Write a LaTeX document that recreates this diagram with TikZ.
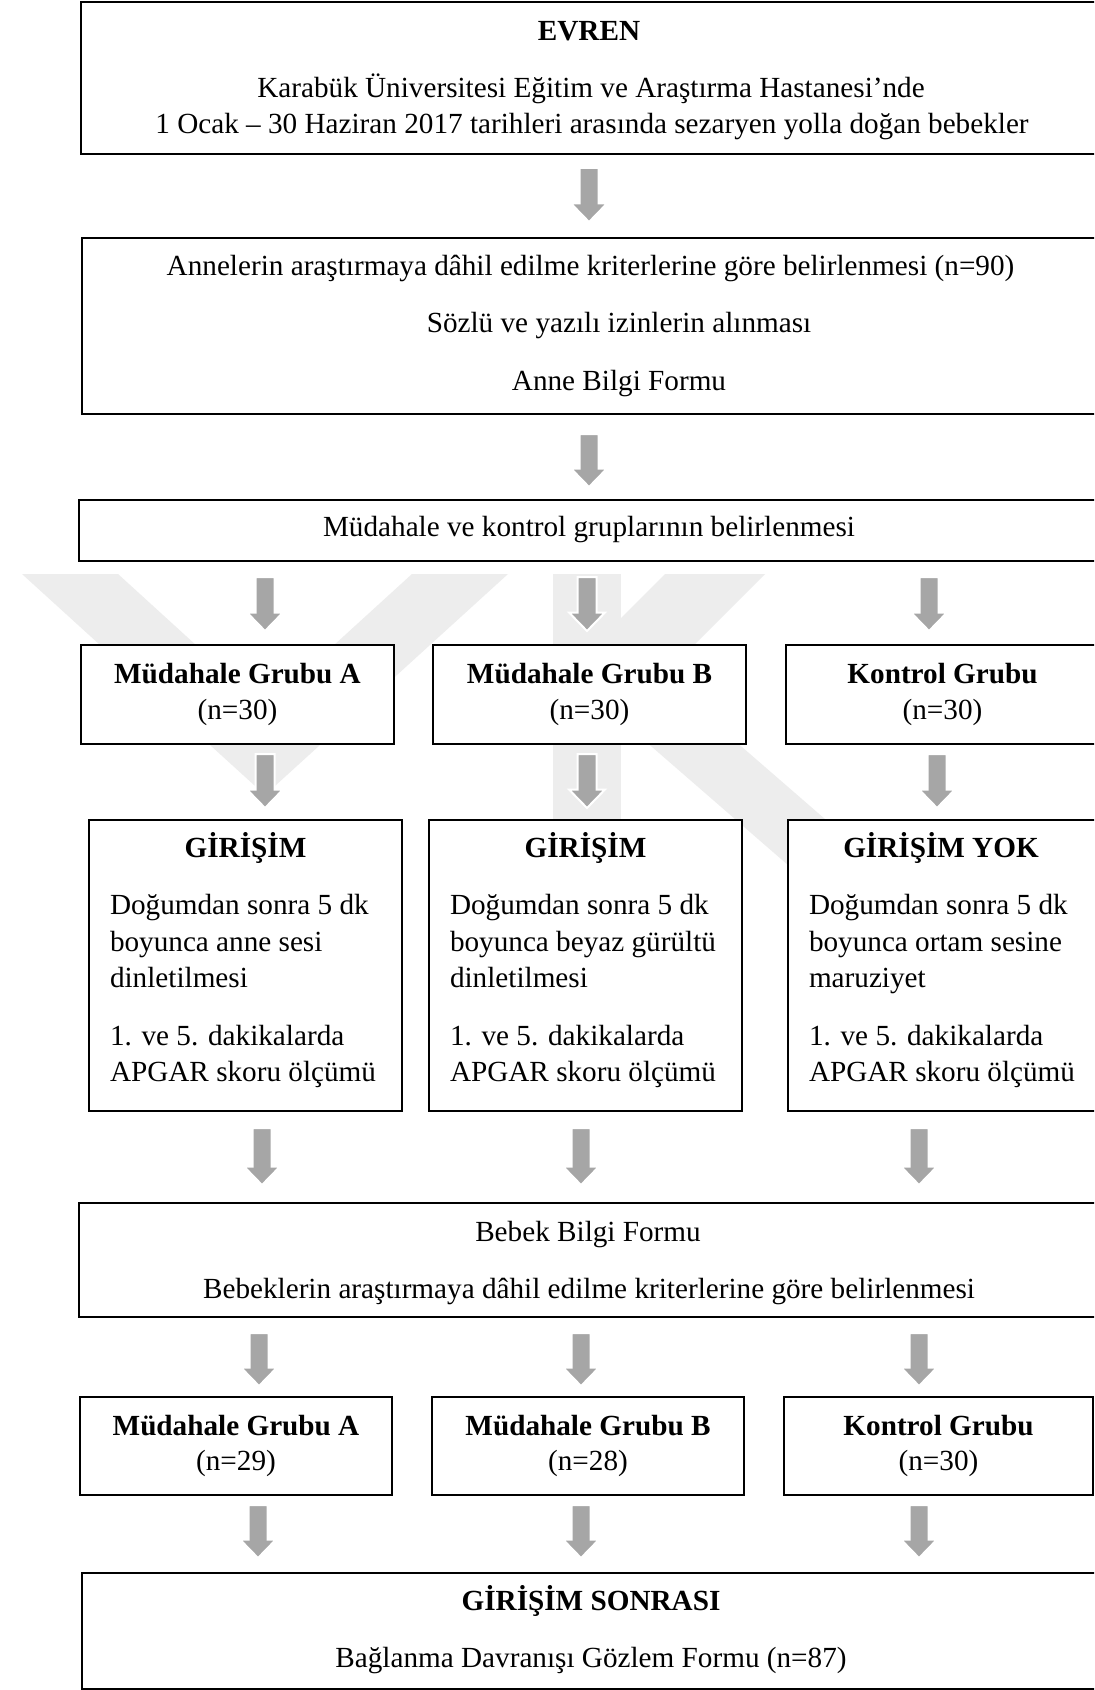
\documentclass[tikz,border=0pt]{standalone}
\usepackage{fontspec}
\setmainfont{Liberation Serif}
\definecolor{arrgray}{RGB}{166,166,166}
\definecolor{wmgray}{RGB}{237,237,237}
\tikzset{
  box/.style={draw=black, fill=white, line width=1pt, rectangle, inner sep=0pt, outer sep=0pt},
  txt/.style={inner sep=0pt, outer sep=0pt, font=\fontsize{14.6pt}{18pt}\selectfont},
  btxt/.style={inner sep=0pt, outer sep=0pt, font=\fontsize{14.6pt}{18pt}\selectfont\bfseries},
  blockarrow/.style={fill=arrgray, draw=white, line width=1pt, line join=miter},
  watermark/.style={fill=wmgray, draw=none},
}
% box: name, x1, y1, x2, y2 (pixel units, y downward)
\newcommand\bbox[5]{\node[box, anchor=north west, minimum width={(#4-#2)*0.5pt}, minimum height={(#5-#3)*0.5pt}] (#1) at (#2,#3) {};}
% block arrow: x centre, y top, y tip
\newcommand\barr[3]{\filldraw[blockarrow] (#1-9.5,#2) -- (#1+9.5,#2) -- (#1+9.5,#3-18.5) -- (#1+18,#3-18.5) -- (#1,#3) -- (#1-18,#3-18.5) -- (#1-9.5,#3-18.5) -- cycle;}
\begin{document}
\begin{tikzpicture}[x=0.5pt, y=-0.5pt]
\useasboundingbox (0,0) rectangle (1094,1690);
\clip (0,0) rectangle (1094,1690);
\fill[white] (0,0) rectangle (1094,1690);

% ---- faint background watermark ----
\fill[watermark] (22,574) -- (265,795) -- (508,574) -- (412,574) -- (265,708) -- (118,574) -- cycle;
\fill[watermark] (553,574) rectangle (621,830);
\fill[watermark] (665,574) -- (765,574) -- (621,718) -- (621,618) -- cycle;
\fill[watermark] (621,642) -- (924,905) -- (834,905) -- (621,720) -- cycle;

% ---- EVREN ----
\bbox{evren}{81}{2.5}{1102}{154}
\node[btxt, anchor=base] (evrenT) at (589,40.5) {EVREN};
\node[txt, anchor=base] (evrenA) at (591,97.5) {Karabük Üniversitesi Eğitim ve Araştırma Hastanesi’nde};
\node[txt, anchor=base] (evrenB) at (592,134) {1 Ocak – 30 Haziran 2017 tarihleri arasında sezaryen yolla doğan bebekler};

\barr{589}{168}{222}

% ---- Anneler ----
\bbox{anne}{82}{238}{1102}{414}
\node[txt, anchor=base] (anneA) at (590.5,276) {Annelerin araştırmaya dâhil edilme kriterlerine göre belirlenmesi (n=90)};
\node[txt, anchor=base] (anneB) at (619,333) {Sözlü ve yazılı izinlerin alınması};
\node[txt, anchor=base] (anneC) at (619,390) {Anne Bilgi Formu};

\barr{589}{434}{487}

% ---- Gruplar ----
\bbox{grup}{79}{500}{1102}{561}
\node[txt, anchor=base] (grupT) at (589,536) {Müdahale ve kontrol gruplarının belirlenmesi};

\barr{265}{577}{631}
\barr{587}{577}{631}
\barr{929}{577}{631}

% ---- Group boxes (n=30) ----
\bbox{gA}{81}{645}{394}{744}
\node[btxt, anchor=base] (gAt) at (237.5,683) {Müdahale Grubu A};
\node[txt, anchor=base] (gAn) at (237.5,719) {(n=30)};
\bbox{gB}{433}{645}{746}{744}
\node[btxt, anchor=base] (gBt) at (589.5,683) {Müdahale Grubu B};
\node[txt, anchor=base] (gBn) at (589.5,719) {(n=30)};
\bbox{gK}{786}{645}{1100}{744}
\node[btxt, anchor=base] (gKt) at (942.5,683) {Kontrol Grubu};
\node[txt, anchor=base] (gKn) at (942.5,719) {(n=30)};

\barr{265}{754}{808}
\barr{587}{754}{808}
\barr{937}{754}{808}

% ---- Girisim boxes ----
\bbox{iA}{89}{820}{402}{1111}
\node[btxt, anchor=base] (iAt) at (245.5,857) {GİRİŞİM};
\node[txt, anchor=base west] (iA1) at (110,914) {Doğumdan sonra 5 dk};
\node[txt, anchor=base west] (iA2) at (110,951) {boyunca anne sesi};
\node[txt, anchor=base west] (iA3) at (110,987) {dinletilmesi};
\node[txt, anchor=base west] (iA4) at (110,1045) {1. ve 5. dakikalarda};
\node[txt, anchor=base west] (iA5) at (110,1081) {APGAR skoru ölçümü};

\bbox{iB}{429}{820}{742}{1111}
\node[btxt, anchor=base] (iBt) at (585.5,857) {GİRİŞİM};
\node[txt, anchor=base west] (iB1) at (450,914) {Doğumdan sonra 5 dk};
\node[txt, anchor=base west] (iB2) at (450,951) {boyunca beyaz gürültü};
\node[txt, anchor=base west] (iB3) at (450,987) {dinletilmesi};
\node[txt, anchor=base west] (iB4) at (450,1045) {1. ve 5. dakikalarda};
\node[txt, anchor=base west] (iB5) at (450,1081) {APGAR skoru ölçümü};

\bbox{iK}{788}{820}{1097}{1111}
\node[btxt, anchor=base] (iKt) at (941,857) {GİRİŞİM YOK};
\node[txt, anchor=base west] (iK1) at (809,914) {Doğumdan sonra 5 dk};
\node[txt, anchor=base west] (iK2) at (809,951) {boyunca ortam sesine};
\node[txt, anchor=base west] (iK3) at (809,987) {maruziyet};
\node[txt, anchor=base west] (iK4) at (809,1045) {1. ve 5. dakikalarda};
\node[txt, anchor=base west] (iK5) at (809,1081) {APGAR skoru ölçümü};

\barr{262}{1128}{1185}
\barr{581}{1128}{1185}
\barr{919}{1128}{1185}

% ---- Bebek ----
\bbox{bebek}{79}{1203}{1102}{1317}
\node[txt, anchor=base] (bebekA) at (588,1241) {Bebek Bilgi Formu};
\node[txt, anchor=base] (bebekB) at (589,1298) {Bebeklerin araştırmaya dâhil edilme kriterlerine göre belirlenmesi};

\barr{259}{1333}{1386}
\barr{581}{1333}{1386}
\barr{919}{1333}{1386}

% ---- Group boxes (final n) ----
\bbox{hA}{80}{1397}{392}{1495}
\node[btxt, anchor=base] (hAt) at (236,1435) {Müdahale Grubu A};
\node[txt, anchor=base] (hAn) at (236,1470) {(n=29)};
\bbox{hB}{432}{1397}{744}{1495}
\node[btxt, anchor=base] (hBt) at (588,1435) {Müdahale Grubu B};
\node[txt, anchor=base] (hBn) at (588,1470) {(n=28)};
\bbox{hK}{784}{1397}{1093}{1495}
\node[btxt, anchor=base] (hKt) at (938.5,1435) {Kontrol Grubu};
\node[txt, anchor=base] (hKn) at (938.5,1470) {(n=30)};

\barr{258}{1505}{1558}
\barr{581}{1505}{1558}
\barr{919}{1505}{1558}

% ---- Sonrasi ----
\bbox{son}{82}{1573}{1102}{1689}
\node[btxt, anchor=base] (sonT) at (591,1610.5) {GİRİŞİM SONRASI};
\node[txt, anchor=base] (sonA) at (591,1667) {Bağlanma Davranışı Gözlem Formu (n=87)};
\end{tikzpicture}
\end{document}
